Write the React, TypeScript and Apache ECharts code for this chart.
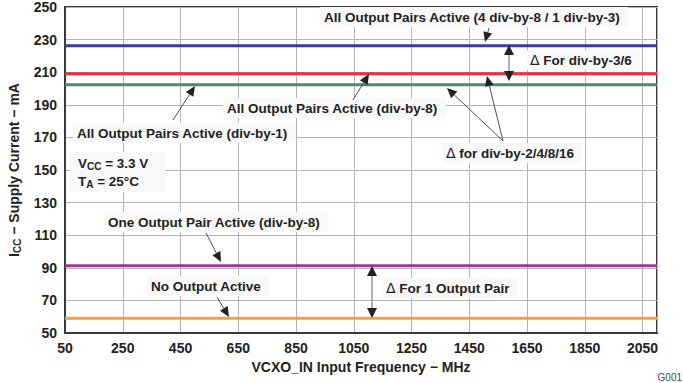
import React, { useEffect, useRef } from "react";
import * as echarts from "echarts";

// ---- data ----
const freqRange = [50, 2100]; // MHz, x extent of each trace
const xTickStart = 50;
const xTickStep = 200;
const yMin = 50;
const yMax = 250;
const yStep = 20;
const seriesNames = [
  "All Output Pairs Active (4 div-by-8 / 1 div-by-3)",
  "All Output Pairs Active (div-by-8)",
  "All Output Pairs Active (div-by-1)",
  "One Output Pair Active (div-by-8)",
  "No Output Active",
];
const seriesCurrents = [226.3, 209.1, 202.3, 91.3, 59.0]; // mA
const seriesColors = ["#3c3c9c", "#f52a3e", "#4b8b6b", "#9a3a9e", "#f7a040"];

const FONT = "'Liberation Sans', Arial, sans-serif";

function arrow(x1: number, y1: number, x2: number, y2: number, color = "#222", w = 0.8) {
  const dx = x2 - x1;
  const dy = y2 - y1;
  const len = Math.sqrt(dx * dx + dy * dy);
  const ux = dx / len;
  const uy = dy / len;
  const hl = 10;
  const hw = 4.5;
  const bx = x2 - ux * hl;
  const by = y2 - uy * hl;
  return [
    {
      type: "line",
      shape: { x1, y1, x2: bx, y2: by },
      style: { stroke: color, lineWidth: w },
      z: 100,
    },
    {
      type: "polygon",
      shape: {
        points: [
          [x2, y2],
          [bx - uy * hw, by + ux * hw],
          [bx + uy * hw, by - ux * hw],
        ],
      },
      style: { fill: "#222" },
      z: 100,
    },
  ];
}

function dblArrow(x: number, y1: number, y2: number) {
  const hl = 10;
  const hw = 5;
  return [
    {
      type: "line",
      shape: { x1: x, y1: y1 + hl, x2: x, y2: y2 - hl },
      style: { stroke: "#999", lineWidth: 1.5 },
      z: 100,
    },
    {
      type: "polygon",
      shape: { points: [[x, y1], [x - hw, y1 + hl], [x + hw, y1 + hl]] },
      style: { fill: "#222" },
      z: 100,
    },
    {
      type: "polygon",
      shape: { points: [[x, y2], [x - hw, y2 - hl], [x + hw, y2 - hl]] },
      style: { fill: "#222" },
      z: 100,
    },
  ];
}

const labelRich = {
  b: { font: `bold 13.5px ${FONT}`, fill: "#222" },
  d: { font: `14px 'DejaVu Sans', ${FONT}`, fill: "#222" },
  s: { font: `bold 10px ${FONT}`, fill: "#222", verticalAlign: "bottom", padding: [6, 0, 0, 0] },
};

function label(x: number, y: number, text: string, pad = [3, 8, 3, 4]) {
  return {
    type: "text",
    x,
    y,
    z: 90,
    style: {
      text,
      rich: labelRich,
      font: `bold 13.5px ${FONT}`,
      fill: "#222",
      verticalAlign: "middle",
      align: "left",
      backgroundColor: "#f8f8f8",
      padding: pad,
    },
  };
}

export default function App() {
  const ref = useRef<HTMLDivElement>(null);
  useEffect(() => {
    if (!ref.current) return;
    const chart = echarts.init(ref.current, null, { renderer: "svg" });
    const series = seriesNames.map((name, i) => ({
      name,
      type: "line",
      data: freqRange.map((f) => [f, seriesCurrents[i]]),
      symbol: "none",
      lineStyle: { color: seriesColors[i], width: 3 },
      itemStyle: { color: seriesColors[i] },
      z: 5,
    }));

    const graphic: any[] = [
      label(320, 17, "{b|All Output Pairs Active (4 div-by-8 / 1 div-by-3)}"),
      ...arrow(489, 28, 485, 42),
      label(526, 60, "{d|Δ}{b| For div-by-3/6}"),
      ...dblArrow(509, 45, 81),
      label(223, 108, "{b|All Output Pairs Active (div-by-8)}"),
      ...arrow(353, 100, 369, 74),
      label(73, 133, "{b|All Output Pairs Active (div-by-1)}"),
      ...arrow(173, 120, 195, 86),
      label(442, 153, "{d|Δ}{b| for div-by-2/4/8/16}"),
      ...arrow(503, 141, 447, 88),
      ...arrow(503, 141, 487, 76),
      {
        type: "rect",
        shape: { x: 70, y: 152, width: 95, height: 40 },
        style: { fill: "#f8f8f8" },
        z: 89,
      },
      label(74, 163, "{b|V}{s|CC}{b| = 3.3 V}", [0, 0, 0, 4]),
      label(74, 181, "{b|T}{s|A}{b| = 25°C}", [0, 0, 0, 4]),
      label(104, 222, "{b|One Output Pair Active (div-by-8)}"),
      ...arrow(206, 233, 221, 262),
      label(147, 286, "{b|No Output Active}"),
      ...arrow(217, 297, 229, 317),
      label(382, 288, "{d|Δ}{b| For 1 Output Pair}"),
      ...dblArrow(372, 266, 318),
      {
        type: "text",
        right: 1,
        y: 372,
        style: { text: "G001", font: `10px ${FONT}`, fill: "#444" },
      },
    ];

    chart.setOption({
      animation: false,
      backgroundColor: "#ffffff",
      grid: {
        left: 65,
        right: 26,
        top: 7,
        bottom: 50,
        show: true,
        borderColor: "#3a3a3a",
        borderWidth: 2,
        containLabel: false,
        outerBoundsMode: "none",
      },
      xAxis: {
        type: "value",
        min: xTickStart,
        max: freqRange[1],
        interval: xTickStep,
        name: "VCXO_IN Input Frequency − MHz",
        nameLocation: "middle",
        nameGap: 27,
        nameTextStyle: { fontFamily: FONT, fontWeight: "bold", fontSize: 14, color: "#222" },
        axisLine: { show: true, onZero: false, lineStyle: { color: "#3a3a3a", width: 2 } },
        axisTick: { show: false },
        axisLabel: {
          showMaxLabel: false,
          margin: 8,
          formatter: (v: number) => String(v),
          fontFamily: FONT,
          fontWeight: "bold",
          fontSize: 14,
          color: "#222",
        },
        splitLine: { show: true, lineStyle: { color: "#b4b4b4", width: 1 } },
      },
      yAxis: {
        type: "value",
        min: yMin,
        max: yMax,
        interval: yStep,
        name: "{i|I}{s|CC}{n| − Supply Current − mA}",
        nameLocation: "middle",
        nameRotate: 90,
        nameGap: 42,
        nameTextStyle: {
          rich: {
            i: { fontFamily: FONT, fontWeight: "bold", fontSize: 14, color: "#222" },
            n: { fontFamily: FONT, fontWeight: "bold", fontSize: 14, color: "#222" },
            s: {
              fontFamily: FONT,
              fontWeight: "bold",
              fontSize: 10,
              color: "#222",
              verticalAlign: "bottom",
              padding: [7, 0, 0, 0],
            },
          },
        },
        axisLine: { show: true, onZero: false, lineStyle: { color: "#3a3a3a", width: 2 } },
        axisTick: { show: false },
        axisLabel: {
          margin: 8,
          formatter: (v: number) => String(v),
          fontFamily: FONT,
          fontWeight: "bold",
          fontSize: 14,
          lineHeight: 12,
          color: "#222",
        },
        splitLine: { show: true, lineStyle: { color: "#b4b4b4", width: 1 } },
      },
      series,
      graphic,
    });
    return () => chart.dispose();
  }, []);
  return <div ref={ref} style={{ width: 683, height: 383, position: "absolute", left: 0, top: 0 }} />;
}
